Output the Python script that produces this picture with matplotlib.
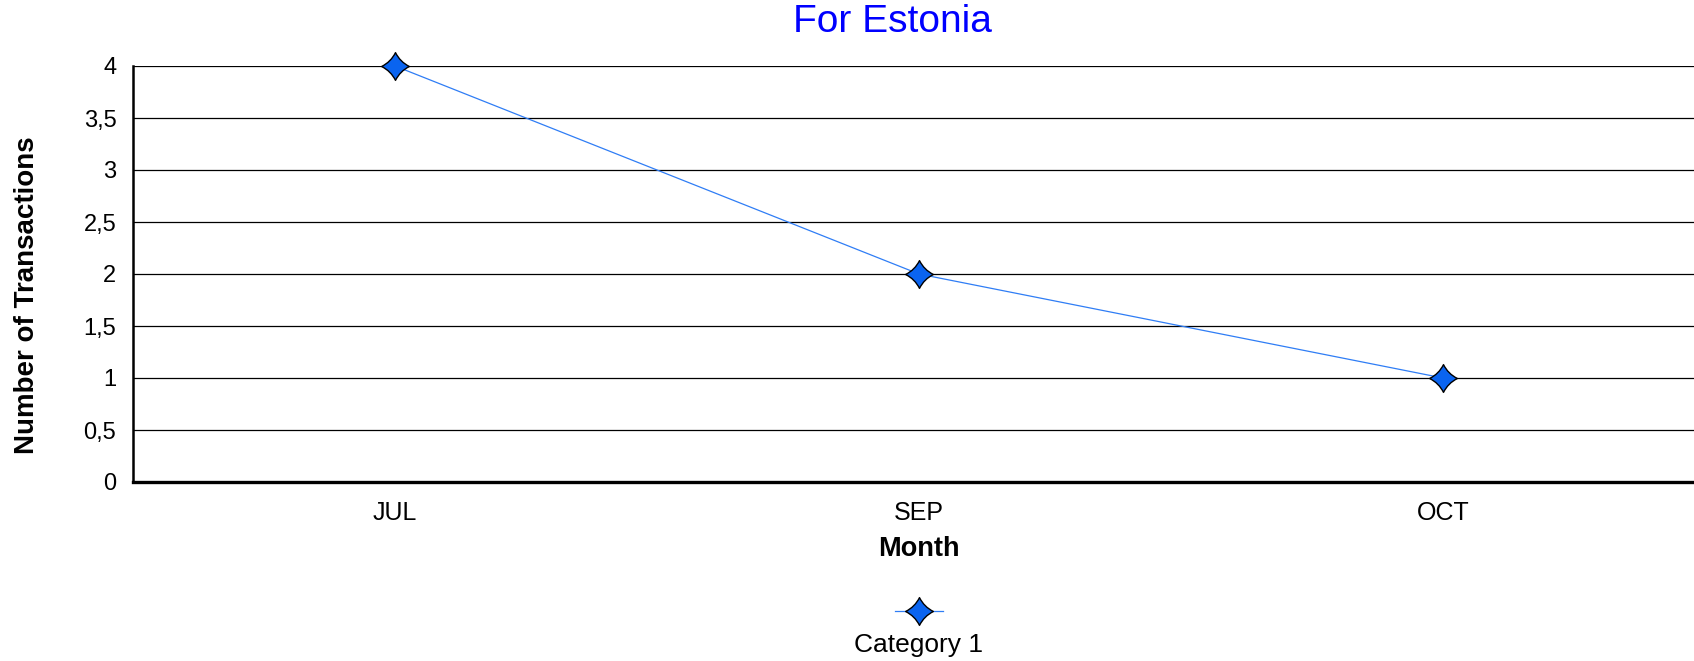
import matplotlib
matplotlib.use("Agg")
import matplotlib.pyplot as plt
from matplotlib.path import Path
from matplotlib.lines import Line2D

months = ["JUL", "SEP", "OCT"]
transactions = [4, 2, 1]
series_name = "Category 1"
y_ticks = [0, 0.5, 1, 1.5, 2, 2.5, 3, 3.5, 4]
y_tick_labels = ["0", "0,5", "1", "1,5", "2", "2,5", "3", "3,5", "4"]

plt.rcParams['font.family'] = ['Liberation Sans', 'DejaVu Sans']

W, H = 1694, 661
fig = plt.figure(figsize=(W / 100, H / 100), dpi=100)
left, right, top, bottom = 133, 1705, 66, 482
ax = fig.add_axes([left / W, 1 - bottom / H, (right - left) / W, (bottom - top) / H])

# 4-pointed concave star marker
c = 0.33
verts = [(0, 1), (c, c), (1, 0), (c, -c), (0, -1), (-c, -c), (-1, 0), (-c, c), (0, 1), (0, 1)]
codes = [Path.MOVETO,
         Path.CURVE3, Path.CURVE3,
         Path.CURVE3, Path.CURVE3,
         Path.CURVE3, Path.CURVE3,
         Path.CURVE3, Path.CURVE3,
         Path.CLOSEPOLY]
star = Path(verts, codes)

x = list(range(len(months)))
line_color = "#2f7df5"
marker_face = "#0a64f0"
ms = 20
ax.plot(x, transactions, color=line_color, lw=0.9, marker=star, markersize=ms,
        markerfacecolor=marker_face, markeredgecolor="black", markeredgewidth=1.0,
        zorder=5, clip_on=False)

ax.set_xlim(-0.5, len(months) - 0.5)
ax.set_ylim(0, 4)
ax.set_yticks(y_ticks)
ax.set_yticklabels(y_tick_labels, fontsize=17)
ax.set_xticks(x)
ax.set_xticklabels(months, fontsize=18)
ax.tick_params(axis='both', length=0)
ax.tick_params(axis='y', pad=12)
ax.tick_params(axis='x', pad=14)
ax.yaxis.grid(True, color="black", lw=0.9)
ax.set_axisbelow(True)
for s in ["right", "top"]:
    ax.spines[s].set_visible(False)
ax.spines["left"].set_linewidth(1.8)
ax.spines["bottom"].set_linewidth(2.4)

ax.set_xlabel("Month", fontsize=19.5, fontweight="bold")
ax.xaxis.set_label_coords((919 - left) / (right - left), -(549 - bottom) / (bottom - top))
ax.xaxis.label.set_va("center")
ax.set_ylabel("Number of Transactions", fontsize=20, fontweight="bold")
ax.yaxis.set_label_coords(-(133 - 27) / (right - left), (bottom - 295) / (bottom - top))
ax.yaxis.label.set_va("center")

fig.text(892 / W, 1 - 22 / H, "For Estonia", color="#0000ff", fontsize=28,
         ha="center", va="center")

# Legend: marker with line above the label
handle = Line2D([], [], color=line_color, lw=0.9, marker=star, markersize=ms,
                markerfacecolor=marker_face, markeredgecolor="black", markeredgewidth=1.0)
leg = fig.legend([handle], [""], loc="center", bbox_to_anchor=(919 / W, 1 - 612 / H),
                 frameon=False, handlelength=3.4, handletextpad=0, borderpad=0)
fig.text(919 / W, 1 - 645 / H, series_name, fontsize=19, ha="center", va="center")

fig.savefig("out.png", dpi=100)
